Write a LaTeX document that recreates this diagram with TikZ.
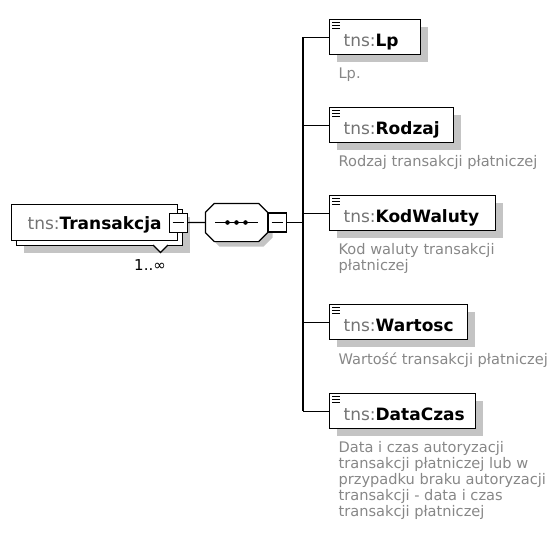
\documentclass[tikz,border=0pt]{standalone}
\usepackage{fontspec}
\setmainfont{DejaVu Sans}
\usetikzlibrary{shadows,calc}
\definecolor{shadowgray}{RGB}{196,196,196}
\definecolor{prefixgray}{RGB}{115,115,115}
\definecolor{docgray}{RGB}{135,135,135}
\newcommand{\elname}[1]{{\color{prefixgray}tns:}\textbf{#1}}
\begin{document}
\begin{tikzpicture}[x=1pt,y=-1pt,line width=1.2pt,
  elbox/.style={draw,fill=white,anchor=north west,minimum height=35pt,inner xsep=0pt,inner ysep=0pt,
    text height=22pt,text depth=3pt,align=left,font=\fontsize{17}{20}\selectfont},
  elshadow/.style={drop shadow={shadow xshift=7pt,shadow yshift=-7pt,fill=shadowgray,opacity=1}},
  doc/.style={anchor=north west,inner sep=0pt,align=left,text=docgray,font=\fontsize{14.6}{15.8}\selectfont},
  minusbox/.style={draw,fill=white,minimum width=18pt,minimum height=19pt,inner sep=0pt},
  seqshadow/.style={preaction={fill=shadowgray,transform canvas={shift={(5pt,-5pt)}}}}]
\useasboundingbox (0,0) rectangle (551,539);

% root element
\node (trans) [elbox,text width=166pt,minimum height=36pt,text height=19pt,text depth=6pt,
  drop shadow={shadow xshift=12pt,shadow yshift=-12pt,fill=shadowgray,opacity=1},
  copy shadow={shadow xshift=5pt,shadow yshift=-5pt,draw=black,fill=white}]
  at (11,204) {\hspace*{16pt}\elname{Transakcja}};
\node (transMinus) [minusbox] at (trans.east) {};
\draw ([xshift=4pt]transMinus.west) -- ([xshift=-4pt]transMinus.east);
\draw[fill=white] (153,245) -- (160.5,252.5) -- (168,245);
\node (mult) [font=\fontsize{15}{18}\selectfont] at (150,265) {1..∞};

% sequence
\node (seq) [minimum width=61pt,minimum height=37pt,inner sep=0pt] at (236.5,222.5) {};
\draw[fill=white,seqshadow] ([xshift=9pt]seq.north west) -- ([xshift=-9pt]seq.north east)
  -- ([yshift=-9pt]seq.north east) -- ([yshift=9pt]seq.south east)
  -- ([xshift=-9pt]seq.south east) -- ([xshift=9pt]seq.south west)
  -- ([yshift=9pt]seq.south west) -- ([yshift=-9pt]seq.north west) -- cycle;
\draw ([xshift=10pt]seq.west) -- ([xshift=-10pt]seq.east);
\foreach \dx in {-9,0,9}
  \fill ($(seq.center)+(\dx,0)$) circle (2.3pt);
\node (seqMinus) [minusbox,anchor=west] at (seq.east) {};
\draw ([xshift=4pt]seqMinus.west) -- ([xshift=-4pt]seqMinus.east);
\draw (transMinus.east) -- (seq.west);
\coordinate (bus) at (303,222.5);
\draw (seqMinus.east) -- (bus);

% children
\node (lp) [elbox,elshadow,text width=91pt] at (329,19) {\hspace*{14pt}\elname{Lp}};
\node (rodzaj) [elbox,elshadow,text width=124pt] at (329,107) {\hspace*{14pt}\elname{Rodzaj}};
\node (kod) [elbox,elshadow,text width=166pt] at (329,195) {\hspace*{14pt}\elname{KodWaluty}};
\node (wartosc) [elbox,elshadow,text width=138pt] at (329,304) {\hspace*{14pt}\elname{Wartosc}};
\node (dataczas) [elbox,elshadow,text width=146pt] at (329,393) {\hspace*{14pt}\elname{DataCzas}};

\draw (bus |- lp.west) -- (bus |- dataczas.west);
\foreach \n in {lp,rodzaj,kod,wartosc,dataczas} {
  \draw (bus |- \n.west) -- (\n.west);
  \foreach \dy in {3.5,6.5,9.5}
    \draw ([shift={(3,\dy)}]\n.north west) -- ++(8,0);
}

\node (lpDoc) [doc] at ($(lp.south west)+(9,12)$) {Lp.};
\node (rodzajDoc) [doc] at ($(rodzaj.south west)+(9,12)$) {Rodzaj transakcji płatniczej};
\node (kodDoc) [doc] at ($(kod.south west)+(9,12)$) {Kod waluty transakcji\\płatniczej};
\node (wartoscDoc) [doc] at ($(wartosc.south west)+(9,12)$) {Wartość transakcji płatniczej};
\node (dataczasDoc) [doc] at ($(dataczas.south west)+(9,12)$) {Data i czas autoryzacji\\transakcji płatniczej lub w\\przypadku braku autoryzacji\\transakcji - data i czas\\transakcji płatniczej};
\end{tikzpicture}
\end{document}
